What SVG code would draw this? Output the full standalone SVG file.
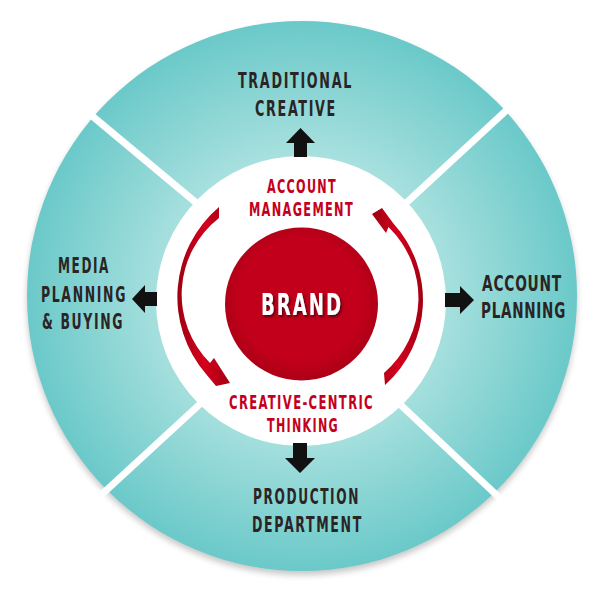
<svg xmlns="http://www.w3.org/2000/svg" width="600" height="600" viewBox="0 0 600 600">
  <defs>
    <radialGradient id="teal" cx="302" cy="296" r="275" gradientUnits="userSpaceOnUse">
      <stop offset="0.5" stop-color="#a9e1df"/>
      <stop offset="1" stop-color="#6bc9c9"/>
    </radialGradient>
    <radialGradient id="redball" cx="301" cy="300" r="77" gradientUnits="userSpaceOnUse">
      <stop offset="0.8" stop-color="#c2001b"/>
      <stop offset="1" stop-color="#b00017"/>
    </radialGradient>
    <linearGradient id="swoosh" x1="0" y1="0" x2="1" y2="0">
      <stop offset="0" stop-color="#9e0010"/>
      <stop offset="0.5" stop-color="#d4001e"/>
      <stop offset="1" stop-color="#a30012"/>
    </linearGradient>
    <filter id="shadow" x="-10%" y="-10%" width="120%" height="120%">
      <feGaussianBlur stdDeviation="3"/>
    </filter>
    <filter id="txtshadow" x="-10%" y="-20%" width="120%" height="150%">
      <feDropShadow dx="1.5" dy="2" stdDeviation="0.8" flood-color="#3a0008" flood-opacity="0.8"/>
    </filter>
  </defs>
  <style>
    .lbl { font-family: 'DejaVu Sans Condensed', 'DejaVu Sans', sans-serif; font-stretch: condensed; font-weight: bold; font-size: 21px; letter-spacing: 2.5px; fill: #2b2424; text-anchor: middle; }
    .tight { letter-spacing: 1px; font-size: 20.5px; }
    .red { font-family: 'DejaVu Sans Condensed', 'DejaVu Sans', sans-serif; font-stretch: condensed; font-weight: bold; font-size: 19px; letter-spacing: 2px; fill: #c4001c; text-anchor: middle; }
    .brand { font-family: 'DejaVu Sans Condensed', 'DejaVu Sans', sans-serif; font-stretch: condensed; font-weight: bold; font-size: 31px; letter-spacing: 3px; fill: #ffffff; text-anchor: middle; }
    .divider { stroke: #ffffff; stroke-width: 7; }
    .blk { fill: #111111; }
    .sw { fill: url(#swoosh); }
  </style>

  <g id="background">
    <circle cx="302" cy="300" r="275" fill="#000" opacity="0.22" filter="url(#shadow)"/>
    <circle cx="302" cy="296" r="275" fill="url(#teal)"/>
    <line class="divider" x1="85" y1="110" x2="212" y2="216"/>
    <line class="divider" x1="511" y1="106" x2="392" y2="216"/>
    <line class="divider" x1="99" y1="497" x2="212" y2="393"/>
    <line class="divider" x1="505" y1="503" x2="388" y2="393"/>
    <circle cx="301" cy="301" r="145" fill="#ffffff"/>
  </g>

  <g id="node-traditional-creative">
    <text class="lbl" x="295.5" y="88" textLength="115" lengthAdjust="spacingAndGlyphs">TRADITIONAL</text>
    <text class="lbl" x="296" y="116" textLength="82" lengthAdjust="spacingAndGlyphs">CREATIVE</text>
  </g>
  <g id="node-media-planning">
    <text class="lbl" x="84" y="273" textLength="52" lengthAdjust="spacingAndGlyphs">MEDIA</text>
    <text class="lbl" x="84" y="302" textLength="86" lengthAdjust="spacingAndGlyphs">PLANNING</text>
    <text class="lbl" x="83" y="329" textLength="82" lengthAdjust="spacingAndGlyphs">&amp; BUYING</text>
  </g>
  <g id="node-account-planning">
    <text class="lbl tight" x="522" y="291" textLength="80" lengthAdjust="spacingAndGlyphs">ACCOUNT</text>
    <text class="lbl tight" x="523.5" y="318" textLength="85" lengthAdjust="spacingAndGlyphs">PLANNING</text>
  </g>
  <g id="node-production">
    <text class="lbl" x="306.5" y="504" textLength="107" lengthAdjust="spacingAndGlyphs">PRODUCTION</text>
    <text class="lbl" x="307.5" y="532" textLength="111" lengthAdjust="spacingAndGlyphs">DEPARTMENT</text>
  </g>
  <g id="node-account-management">
    <text class="red" x="302" y="193" textLength="70" lengthAdjust="spacingAndGlyphs">ACCOUNT</text>
    <text class="red" x="301.5" y="216" textLength="105" lengthAdjust="spacingAndGlyphs">MANAGEMENT</text>
  </g>
  <g id="node-creative-centric">
    <text class="red" x="301.5" y="409" textLength="145" lengthAdjust="spacingAndGlyphs">CREATIVE-CENTRIC</text>
    <text class="red" x="303" y="432" textLength="72" lengthAdjust="spacingAndGlyphs">THINKING</text>
  </g>
  <g id="node-brand">
    <circle cx="301.5" cy="304" r="76.5" fill="url(#redball)"/>
    <text class="brand" x="302" y="315" textLength="82" lengthAdjust="spacingAndGlyphs" filter="url(#txtshadow)">BRAND</text>
  </g>

  <g id="connectors">
    <path class="blk" d="M294,157 L294,143 L286,143 L300.5,128 L315,143 L307,143 L307,157 Z"/>
    <path class="blk" d="M157,292 L145,292 L145,285 L132,299 L145,313 L145,306 L157,306 Z"/>
    <path class="blk" d="M445,293 L460,293 L460,286 L474,300 L460,314 L460,307 L445,307 Z"/>
    <path class="blk" d="M293,443 L293,458 L285,458 L300,473 L315,458 L307,458 L307,443 Z"/>
    <path class="sw" d="M219,207 L219,218 A 97 97 0 0 0 210,363 L214,358 L230,383 L216,386 L206,374 A 118 118 0 0 1 219,207 Z"/>
    <path class="sw" d="M384,373 A 99 99 0 0 0 388.5,227 L386,233 L372,214 L382,208 L393,223 A 114 114 0 0 1 385,385 Z"/>
  </g>
</svg>
